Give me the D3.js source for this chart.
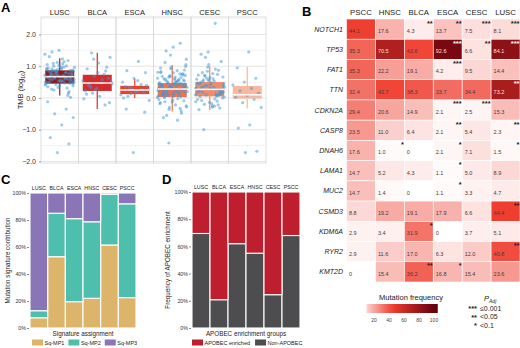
<!DOCTYPE html>
<html>
<head>
<meta charset="utf-8">
<script src="https://cdn.jsdelivr.net/npm/d3@7"></script>
<style>
  body { margin: 0; background: #fff; }
  svg { font-family: "Liberation Sans", Arial, sans-serif; }
</style>
</head>
<body>
<svg id="fig" width="520" height="348"></svg>
<script>
// ---- data ----
const cancerTypes = ['LUSC', 'BLCA', 'ESCA', 'HNSC', 'CESC', 'PSCC'];

// panel A: TMB (log10) per tumour, and box summary
const tmbLUSC = [0.72,0.55,0.91,0.64,1.03,0.48,0.81,0.67,0.38,0.95,0.59,0.76,1.12,0.44,0.69,0.86,0.52,0.99,0.63,0.31,0.78,0.57,1.07,0.83,0.46,0.7,0.93,0.61,0.25,0.88,0.66,0.5,1.18,0.74,0.41,0.97,0.58,0.8,0.68,0.35,1.01,0.62,0.85,0.53,0.77,0.2,0.9,0.65,0.47,1.09,0.73,0.56,0.84,0.6,0.42,0.96,0.71,0.28,0.87,0.54,1.05,0.79,0.64,0.45,0.92,0.69,0.15,0.82,0.51,1.14,0.75,0.59,0.39,0.94,0.66,0.86,0.49,1.23,0.7,0.57,0.33,0.89,0.62,1.0,0.76,0.52,1.3,0.08,0.83,1.38,0.67,1.45,0.02,1.5,-0.12,-0.35,-0.5,-0.62,-0.85,-1.25,-1.45,-1.72];
const tmbBLCA = [1.42,1.28,1.1,0.92,0.85,0.68,0.55,0.47,0.38,0.62,0.3,0.22,0.74,0.15,0.51,0.05,0.41,0.97,0.26,-0.03,0.58,0.33,-0.15,0.8,0.12,-0.22,1.22,0.44];
const tmbESCA = [1.15,0.86,0.8,0.62,0.5,0.42,0.33,0.27,0.21,0.36,0.16,0.3,0.1,0.24,0.05,0.4,0.18,0.0,0.28,0.13,-0.08,0.55,-0.35,-0.45,-1.72];
const tmbHNSC = [0.42,0.15,0.68,0.03,0.35,0.81,0.22,-0.12,0.57,0.29,0.94,0.08,0.46,-0.25,0.61,0.18,0.74,0.37,-0.05,0.52,0.26,0.88,0.11,0.4,-0.33,0.65,0.2,0.49,0.01,0.77,0.32,-0.18,0.56,0.14,0.99,0.44,0.24,-0.41,0.7,0.06,0.38,0.59,-0.09,0.3,0.83,0.17,0.5,-0.28,0.66,0.12,0.43,0.92,0.27,-0.02,0.54,0.35,0.79,0.09,0.47,-0.36,0.62,0.21,0.04,0.72,0.39,-0.15,0.58,0.25,1.05,0.45,0.13,-0.48,0.68,0.31,0.86,0.19,0.53,-0.07,0.41,0.76,0.1,0.34,-0.22,0.6,0.28,0.96,0.48,0.16,-0.55,0.71,0.05,0.37,0.64,-0.3,0.23,0.51,1.12,0.33,-0.13,0.8,0.43,0.07,1.22,0.57,-0.62,0.26,1.35,0.45,-0.7,1.48,0.18,1.6,0.36,1.72,-1.42,0.02];
const tmbCESC = [0.35,0.12,0.58,-0.05,0.27,0.71,0.19,-0.18,0.46,0.08,0.84,0.31,-0.26,0.52,0.15,0.65,0.23,-0.1,0.4,0.03,0.77,0.29,-0.32,0.55,0.17,0.91,0.36,0.0,0.48,0.21,-0.22,0.62,0.1,0.33,0.8,0.25,-0.14,0.44,0.06,0.69,0.38,-0.29,0.5,0.14,0.97,0.3,-0.03,0.57,0.2,0.42,-0.37,0.74,0.09,0.34,0.6,-0.08,0.26,1.05,0.47,0.13,-0.2,0.66,0.28,0.04,0.87,0.39,-0.12,0.53,0.18,1.15,0.32,0.72,0.07,1.28,0.45,-0.25,1.38,0.22,1.45,0.59,2.35,-1.0];
const tmbPSCC = [1.45,0.95,0.62,0.5,0.41,0.3,0.22,0.15,0.08,0.02,-0.05,-0.15,-0.3,-0.85,-0.95,-1.68,-1.72];
const tmbPoints = [tmbLUSC, tmbBLCA, tmbESCA, tmbHNSC, tmbCESC, tmbPSCC];

const whiskerLow  = [0.08, -0.35, 0.0, -0.43, -0.38, -0.33];
const boxQ1       = [0.45, 0.22, 0.12, 0.03, 0.05, -0.02];
const boxMedian   = [0.67, 0.47, 0.25, 0.28, 0.27, 0.1];
const boxQ3       = [0.87, 0.73, 0.38, 0.47, 0.5, 0.38];
const whiskerHigh = [1.25, 1.42, 0.6, 1.04, 1.0, 0.98];
const yTicksA = [-2, -1, 0, 1, 2];

// panel B: mutation frequency (%) heatmap
const heatCols = ['PSCC', 'HNSC', 'BLCA', 'ESCA', 'CESC', 'LUSC'];
const genes = ['NOTCH1','TP53','FAT1','TTN','CDKN2A','CASP8','DNAH6','LAMA1','MUC2','CSMD3','KDM6A','RYR2','KMT2D'];
const mutFreq = [
  [44.1, 17.6, 4.3, 13.7, 7.5, 8.1],
  [35.3, 70.5, 42.6, 92.6, 6.6, 84.1],
  [35.3, 22.2, 19.1, 4.2, 9.5, 14.4],
  [32.4, 42.7, 38.3, 33.7, 34.4, 73.2],
  [29.4, 20.6, 14.9, 2.1, 2.5, 15.3],
  [23.5, 11.0, 6.4, 2.1, 5.4, 2.3],
  [17.6, 1.0, 0, 2.1, 7.1, 1.5],
  [14.7, 5.2, 4.3, 1.1, 5.0, 8.9],
  [14.7, 1.4, 0, 1.1, 3.3, 4.7],
  [8.8, 19.2, 19.1, 17.9, 6.6, 44.4],
  [2.9, 3.4, 31.9, 0, 3.7, 5.1],
  [2.9, 11.6, 17.0, 6.3, 12.0, 40.8],
  [0, 15.4, 36.2, 16.8, 15.4, 23.6]
];
const pStars = [
  ['', '', '**', '**', '***', '***'],
  ['', '', '', '***', '**', '***'],
  ['', '', '', '***', '', ''],
  ['', '', '', '', '', '**'],
  ['', '', '', '***', '***', ''],
  ['', '', '', '**', '', '**'],
  ['', '*', '', '*', '', '*'],
  ['', '', '', '*', '', ''],
  ['', '', '', '*', '', ''],
  ['', '', '', '', '', '**'],
  ['', '', '*', '', '', ''],
  ['', '', '', '', '', '**'],
  ['', '', '**', '*', '', '']
];
const freqLegendTicks = [20, 40, 60, 80, 100];
const pLegendStars = ['***', '**', '*'];
const pLegendText = ['\u22640.001', '<0.05', '<0.1'];

// panel C: signature contribution (%)
const sigNames = ['Sq-MP1', 'Sq-MP2', 'Sq-MP3'];
const sqMP1 = [7.6, 52.8, 19.5, 22, 61.5, 22.5];
const sqMP2 = [5.2, 32.2, 61.5, 56.7, 37.5, 69.5];
const sqMP3 = [87.2, 15, 19, 21.3, 1.0, 8];

// panel D: APOBEC enrichment (%)
const apobecGroups = ['APOBEC enriched', 'Non-APOBEC'];
const nonApobec = [69.5, 20.8, 62, 55, 24.5, 68];
const apobecEnriched = [30.5, 79.2, 38, 45, 75.5, 32];

const pctTicks = [0, 20, 40, 60, 80, 100];

// ---- drawing ----
const svg = d3.select('#fig');
svg.append('rect').attr('width', 520).attr('height', 348).attr('fill', '#fff');

function panelLetter(t, x, y) {
  svg.append('text').attr('x', x).attr('y', y).text(t)
    .attr('font-size', 13).attr('font-weight', 'bold');
}

// ===== Panel A =====
panelLetter('A', 1, 12);
const boxColors = ['#8c1d21', '#d42b2d', '#e5432f', '#ec7355', '#f08b6c', '#f8b7a0'];
const ax = d3.scaleBand().domain(cancerTypes).range([41, 266]);
const ay = d3.scaleLinear().domain([-2.05, 2.55]).range([163, 17]);
const gA = svg.append('g');

// grid
gA.selectAll('line.grid').data(ay.ticks(10)).enter().append('line')
  .attr('x1', 41).attr('x2', 266)
  .attr('y1', d => ay(d)).attr('y2', d => ay(d))
  .attr('stroke', d => Number.isInteger(d) ? '#dedede' : '#f0f0f0')
  .attr('stroke-width', 0.8);
gA.selectAll('rect.facet').data(cancerTypes).enter().append('rect')
  .attr('x', d => ax(d)).attr('y', 17)
  .attr('width', ax.bandwidth()).attr('height', 146)
  .attr('fill', 'none').attr('stroke', '#d6d6d6').attr('stroke-width', 0.8);

// facet labels
gA.selectAll('text.facet').data(cancerTypes).enter().append('text')
  .attr('x', d => ax(d) + ax.bandwidth() / 2).attr('y', 15)
  .attr('text-anchor', 'middle').attr('font-size', 7.5).attr('fill', '#222')
  .text(d => d);

// y axis
const yAxisA = gA.append('g').attr('transform', 'translate(41,0)')
  .call(d3.axisLeft(ay).tickValues(yTicksA).tickFormat(d3.format('.1f')).tickSize(2));
yAxisA.select('.domain').remove();
yAxisA.selectAll('line').attr('stroke', '#999');
yAxisA.selectAll('text').attr('font-size', 7).attr('fill', '#333')
  .attr('font-family', '"Liberation Sans", Arial, sans-serif');

const yTitle = gA.append('text').attr('transform', 'translate(23,90) rotate(-90)')
  .attr('text-anchor', 'middle').attr('font-size', 7.5).attr('fill', '#222');
yTitle.append('tspan').text('TMB (log');
yTitle.append('tspan').attr('font-size', 5).attr('dy', 2).text('10');
yTitle.append('tspan').attr('dy', -2).text(')');

const boxW = 29;
cancerTypes.forEach((c, i) => {
  const cx = ax(c) + ax.bandwidth() / 2;
  const g = gA.append('g');
  g.append('line').attr('x1', cx).attr('x2', cx)
    .attr('y1', ay(whiskerLow[i])).attr('y2', ay(whiskerHigh[i]))
    .attr('stroke', boxColors[i]).attr('stroke-width', 1.2);
  g.append('rect').attr('x', cx - boxW / 2).attr('width', boxW)
    .attr('y', ay(boxQ3[i])).attr('height', ay(boxQ1[i]) - ay(boxQ3[i]))
    .attr('fill', boxColors[i]);
  g.selectAll('circle').data(tmbPoints[i]).enter().append('circle')
    .attr('cx', (d, j) => cx + (((j * 0.618034 + i * 0.31) % 1) - 0.5) * 30)
    .attr('cy', d => ay(d))
    .attr('r', 1.6)
    .attr('fill', '#4198cf').attr('fill-opacity', 0.5);
  g.append('line').attr('x1', cx - boxW / 2).attr('x2', cx + boxW / 2)
    .attr('y1', ay(boxMedian[i])).attr('y2', ay(boxMedian[i]))
    .attr('stroke', '#fff').attr('stroke-width', 1.6).attr('stroke-opacity', 0.9);
});

// ===== Panel B =====
panelLetter('B', 302, 16);
const hx = d3.scaleBand().domain(heatCols).range([346.5, 520]);
const hy = d3.scaleBand().domain(genes).range([19, 282]);
const heatColor = d3.scaleLinear().domain([0, 45, 100])
  .range(['#ffffff', '#ef3b2c', '#67000d']);
const gB = svg.append('g');

gB.selectAll('text.col').data(heatCols).enter().append('text')
  .attr('x', d => hx(d) + hx.bandwidth() / 2).attr('y', 15)
  .attr('text-anchor', 'middle').attr('font-size', 7.8).attr('fill', '#222')
  .text(d => d);
gB.selectAll('text.gene').data(genes).enter().append('text')
  .attr('x', 343).attr('y', d => hy(d) + hy.bandwidth() / 2 + 2.5)
  .attr('text-anchor', 'end').attr('font-size', 7).attr('font-style', 'italic')
  .attr('fill', '#222').text(d => d);

genes.forEach((gname, r) => {
  heatCols.forEach((col, k) => {
    const v = mutFreq[r][k];
    const x0 = hx(col), y0 = hy(gname);
    gB.append('rect').attr('x', x0).attr('y', y0)
      .attr('width', hx.bandwidth()).attr('height', hy.bandwidth())
      .attr('fill', heatColor(v)).attr('stroke', '#fff').attr('stroke-width', 0.6);
    gB.append('text').attr('x', x0 + 2.5).attr('y', y0 + 14)
      .attr('font-size', 5.5).attr('fill', v > 60 ? '#fbe3dc' : '#4a3a3a')
      .text(d3.format('.1f')(v).replace(/^0\.0$/, '0'));
    const s = pStars[r][k];
    if (s) {
      gB.append('text').attr('x', x0 + hx.bandwidth() - 0.5).attr('y', y0 + 6.5)
        .attr('text-anchor', 'end').attr('font-size', 7.5).attr('font-weight', 'bold')
        .attr('fill', v > 60 ? '#fff' : '#222').text(s);
    }
  });
});

// colour legend
const lx = d3.scaleLinear().domain([0, 100]).range([359, 434]);
const defs = svg.append('defs');
const grad = defs.append('linearGradient').attr('id', 'heatGrad');
d3.range(0, 1.01, 0.1).forEach(t => {
  grad.append('stop').attr('offset', t).attr('stop-color', heatColor(10 + t * 95));
});
gB.append('text').attr('x', 411).attr('y', 300).attr('text-anchor', 'middle')
  .attr('font-size', 7.5).attr('fill', '#222').text('Mutation frequency');
gB.append('rect').attr('x', lx(10)).attr('y', 304).attr('width', lx(105) - lx(10))
  .attr('height', 9).attr('fill', 'url(#heatGrad)');
gB.selectAll('text.lt').data(freqLegendTicks).enter().append('text')
  .attr('x', d => lx(d)).attr('y', 322).attr('text-anchor', 'middle')
  .attr('font-size', 5).attr('fill', '#444').text(d => d);

// P adj legend
const pt = gB.append('text').attr('x', 484).attr('y', 301)
  .attr('font-size', 7.5).attr('font-style', 'italic').attr('fill', '#222');
pt.append('tspan').text('P');
pt.append('tspan').attr('font-size', 5).attr('dy', 1.5).text('Adj');
pLegendStars.forEach((s, i) => {
  const y = 311 + i * 8.5;
  gB.append('text').attr('x', 477).attr('y', y).attr('text-anchor', 'end')
    .attr('font-size', 7.5).attr('font-weight', 'bold').attr('fill', '#222').text(s);
  gB.append('text').attr('x', 480).attr('y', y - 0.5)
    .attr('font-size', 7).attr('fill', '#222').text(pLegendText[i]);
});

// ===== stacked panels C & D =====
function stackedPanel(opts) {
  const g = svg.append('g');
  const x = d3.scaleBand().domain(cancerTypes).range(opts.xr);
  const y = d3.scaleLinear().domain([0, 100]).range([328, opts.yTop]);
  const rows = cancerTypes.map((c, i) => {
    const o = { type: c };
    opts.keys.forEach((k, j) => { o[k] = opts.series[j][i]; });
    return o;
  });
  const stacked = d3.stack().keys(opts.keys)(rows);
  stacked.forEach((layer, j) => {
    g.selectAll(null).data(layer).enter().append('rect')
      .attr('x', d => x(d.data.type)).attr('width', x.bandwidth())
      .attr('y', d => y(d[1])).attr('height', d => Math.max(0, y(d[0]) - y(d[1])))
      .attr('fill', opts.colors[j]).attr('stroke', '#fff').attr('stroke-width', 1.1);
  });
  g.selectAll('text.cat').data(cancerTypes).enter().append('text')
    .attr('x', d => x(d) + x.bandwidth() / 2).attr('y', opts.yTop - 3)
    .attr('text-anchor', 'middle').attr('font-size', 5.3).attr('fill', '#222')
    .text(d => d);
  const axis = g.append('g').attr('transform', `translate(${opts.xr[0] - 1},0)`)
    .call(d3.axisLeft(y).tickValues(pctTicks).tickFormat(d => d + '%').tickSize(2));
  axis.select('.domain').remove();
  axis.selectAll('line').attr('stroke', '#888');
  axis.selectAll('text').attr('font-size', 5.3).attr('fill', '#333').attr('x', -3)
    .attr('font-family', '"Liberation Sans", Arial, sans-serif');
  const mid = (opts.xr[0] + opts.xr[1]) / 2;
  g.append('text').attr('transform', `translate(${opts.yTitleX},${(328 + opts.yTop) / 2}) rotate(-90)`)
    .attr('text-anchor', 'middle').attr('font-size', 6.3).attr('fill', '#222').text(opts.yTitle);
  g.append('text').attr('x', mid).attr('y', 336).attr('text-anchor', 'middle')
    .attr('font-size', 6.3).attr('fill', '#222').text(opts.xTitle);
  // legend
  let lxp = opts.legendX;
  opts.legendNames.forEach((n, j) => {
    g.append('rect').attr('x', lxp).attr('y', 339.5).attr('width', 11).attr('height', 6)
      .attr('fill', opts.legendColors[j]);
    const t = g.append('text').attr('x', lxp + 12.5).attr('y', 345)
      .attr('font-size', 5.5).attr('fill', '#222').text(n);
    lxp += 12.5 + t.node().getComputedTextLength() + opts.legendGap;
  });
}

panelLetter('C', 1, 184);
stackedPanel({
  xr: [30, 136], yTop: 193,
  keys: sigNames, series: [sqMP1, sqMP2, sqMP3],
  colors: ['#dcb56b', '#4fbfad', '#8a76b6'],
  yTitle: 'Mutation signature contribution', yTitleX: 10,
  xTitle: 'Signature assignment',
  legendNames: sigNames, legendColors: ['#dcb56b', '#4fbfad', '#8a76b6'],
  legendX: 32, legendGap: 4
});

panelLetter('D', 162, 184);
stackedPanel({
  xr: [192, 300], yTop: 192,
  keys: ['non', 'enr'], series: [nonApobec, apobecEnriched],
  colors: ['#4d4d4f', '#be1e2d'],
  yTitle: 'Frequency of APOBEC enrichment', yTitleX: 170,
  xTitle: 'APOBEC enrichment groups',
  legendNames: apobecGroups, legendColors: ['#be1e2d', '#4d4d4f'],
  legendX: 192, legendGap: 5
});
</script>
</body>
</html>
